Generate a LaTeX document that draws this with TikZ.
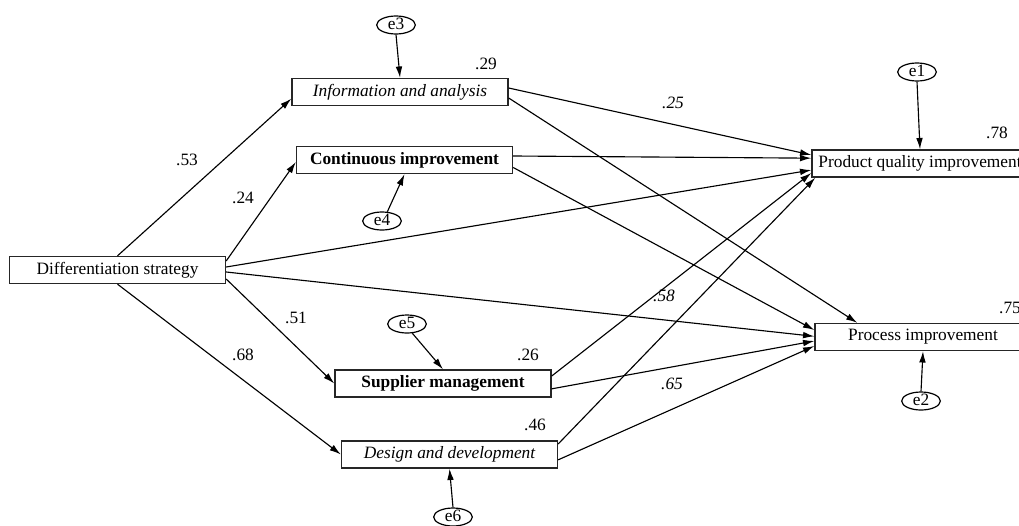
\documentclass[tikz,border=0pt]{standalone}
\usepackage{fontspec}
\setmainfont{Liberation Serif}
\usetikzlibrary{arrows.meta,shapes.geometric}
\begin{document}
\begin{tikzpicture}[x=0.75pt,y=-0.75pt,
  box/.style={draw=black!85,line width=1pt,minimum width=162pt,minimum height=20.25pt,inner sep=0pt,font=\fontsize{13}{15}\selectfont},
  err/.style={draw,ellipse,line width=0.9pt,minimum width=29pt,minimum height=13.5pt,inner sep=0pt,text height=7pt,text depth=0pt,font=\fontsize{13}{15}\selectfont},
  path/.style={draw,line width=0.85pt,-{Latex[length=8.5pt,width=5pt]}},
  lab/.style={inner sep=0pt,font=\fontsize{13}{15}\selectfont}]
\useasboundingbox (0,0) rectangle (1019,525);
% boxes
\node[box] (ds) at (117.5,270) {Differentiation strategy};
\node[box] (info) at (400,92) {\itshape Information and analysis};
\node[box] (cont) at (404.5,160) {\bfseries Continuous improvement};
\node[box] (supp) at (443,383.5) {\bfseries Supplier management};
\node[box] (des) at (449.5,454.5) {\itshape Design and development};
\node[box] (prod) at (920,163.5) {Product quality improvement};
\node[box] (proc) at (923,337) {Process improvement};
% errors
\node[err] (e3) at (396,25) {e3};
\node[err] (e4) at (382,221) {e4};
\node[err] (e5) at (407,324) {e5};
\node[err] (e6) at (453,517) {e6};
\node[err] (e1) at (917,72) {e1};
\node[err] (e2) at (921,401) {e2};
% labels
\node[lab] (l53) at (187,160) {.53};
\node[lab] (l24) at (243,198) {.24};
\node[lab] (l51) at (296,318) {.51};
\node[lab] (l68) at (243,355) {.68};
\node[lab] (l29) at (486,64) {.29};
\node[lab] (l25) at (673,103) {\itshape .25};
\node[lab] (l78) at (997,133) {.78};
\node[lab] (l75) at (1010,308) {.75};
\node[lab] (l26) at (528,355) {.26};
\node[lab] (l58) at (664,296) {\itshape .58};
\node[lab] (l65) at (672,384) {\itshape .65};
\node[lab] (l46) at (535,425) {.46};
% paths from differentiation strategy
\draw[path] (ds.north) -- ([yshift=-5pt]info.west);
\draw[path] ([yshift=6.75pt]ds.east) -- ([yshift=-1.5pt]cont.west);
\draw[path] ([yshift=2.25pt]ds.east) -- ([yshift=-4.9pt]prod.west);
\draw[path] ([yshift=-1.5pt]ds.east) -- ([yshift=0.5pt]proc.west);
\draw[path] ([yshift=-6.75pt]ds.east) -- (supp.west);
\draw[path] (ds.south) -- (des.west);
% mediators to outcomes
\draw[path] ([yshift=3pt]info.east) -- ([yshift=6.4pt]prod.west);
\draw[path] ([yshift=-4.5pt]info.east) -- ([xshift=32.25pt]proc.north west);
\draw[path] ([yshift=3pt]cont.east) -- ([yshift=4pt]prod.west);
\draw[path] ([yshift=-5.6pt]cont.east) -- ([yshift=5.25pt]proc.west);
\draw[path] ([yshift=5.6pt]supp.east) -- ([yshift=-7.1pt]prod.west);
\draw[path] ([yshift=-4pt]supp.east) -- ([yshift=-3pt]proc.west);
\draw[path] ([yshift=7.9pt]des.east) -- ([xshift=3pt]prod.south west);
\draw[path] ([yshift=-4pt]des.east) -- ([yshift=-6.75pt]proc.west);
% error terms
\draw[path] (e3.south) -- (info.north);
\draw[path] (e4.60) -- (cont.south);
\draw[path] (e5.-60) -- (supp.north);
\draw[path] (e6.north) -- (des.south);
\draw[path] (e1.south) -- (prod.north);
\draw[path] (e2.north) -- (proc.south);
\end{tikzpicture}
\end{document}
